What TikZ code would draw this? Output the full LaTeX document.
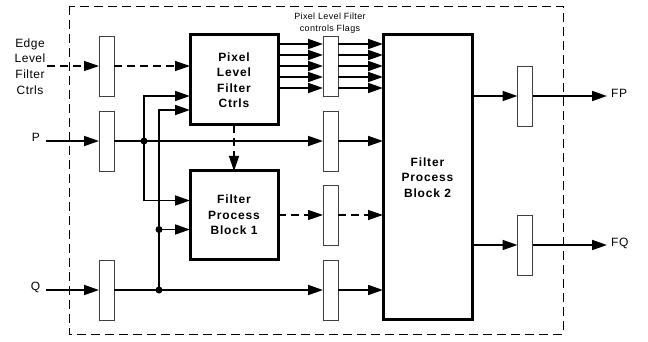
\documentclass[tikz,border=0pt]{standalone}
\usepackage{fontspec}
\setmainfont{Liberation Sans}
\newfontfamily\blkfont[LetterSpace=7]{Liberation Sans}
\newfontfamily\lblfont[LetterSpace=4]{Liberation Sans}
\usetikzlibrary{arrows.meta,calc}
\begin{document}
\begin{tikzpicture}[x=1pt,y=-1pt,
 latch/.style={draw=black!75,line width=0.8pt,fill=white,minimum width=15pt,minimum height=60pt,inner sep=0pt,outer sep=0pt},
 blk/.style={draw,line width=3pt,fill=white,inner sep=0pt,outer sep=0pt,align=center,font=\blkfont\bfseries\fontsize{12}{15.5}\selectfont},
 arr/.style={line width=1.8pt,-{Triangle[length=15pt,width=10pt]}},
 darr/.style={line width=1.3pt,dash pattern=on 8pt off 5pt,-{Triangle[length=15pt,width=10pt]}},
 dot/.style={circle,fill,inner sep=0pt,minimum size=7pt},
 lbl/.style={font=\lblfont\fontsize{12}{15.6}\selectfont,align=center,inner sep=0pt},
 small/.style={font=\lblfont\fontsize{9}{12}\selectfont,align=center,inner sep=0pt}]
\useasboundingbox (0,0) rectangle (648,342);
\fill[white] (0,0) rectangle (648,342);
% outer dashed frame
\draw[line width=0.9pt,dash pattern=on 9pt off 5pt] (69,6) rectangle (563,334);
% latches
\node[latch] (lE) at (106.5,66) {};
\node[latch] (lP) at (106.5,141) {};
\node[latch] (lQ) at (106.5,290) {};
\node[latch] (m1) at (330.5,66) {};
\node[latch] (m2) at (330.5,141) {};
\node[latch] (m3) at (330.5,215) {};
\node[latch] (m4) at (330.5,290) {};
\node[latch] (r1) at (525,96) {};
\node[latch] (r2) at (525,245) {};
% blocks
\node[blk,minimum width=88pt,minimum height=90pt] (pl) at (234,80) {Pixel\\Level\\Filter\\Ctrls};
\node[blk,minimum width=88pt,minimum height=88pt] (b1) at (234,215) {Filter\\Process\\Block 1};
\node[blk,minimum width=89pt,minimum height=284.5pt] (b2) at (427.5,177.25) {Filter\\Process\\Block 2};
% labels
\node[lbl] at (30,66.5) {Edge\\Level\\Filter\\Ctrls};
\node[lbl] at (36,137) {P};
\node[lbl] at (35.5,287) {Q};
\node[lbl,anchor=west] at (611,93) {FP};
\node[lbl,anchor=west] at (611,243) {FQ};
\node[small] at (330,23) {Pixel Level Filter\\controls Flags};
% coordinates
\coordinate (inE) at (47,66);
\coordinate (inP) at (46,141);
\coordinate (inQ) at (46,290);
\coordinate (oFP) at (607,96);
\coordinate (oFQ) at (607,245);
\coordinate (dP) at (144,141);
\coordinate (dQ) at (159,290);
\coordinate (dQ2) at (159,229.5);
% edge path
\draw[darr] (inE) -- (lE);
\draw[darr] (lE) -- (lE -| pl.west);
% inputs
\draw[arr] (inP) -- (lP);
\draw[arr] (inQ) -- (lQ);
% P and Q main lines
\draw[arr] (lP) -- (m2);
\draw[arr] (lQ) -- (m4);
% branches
\draw[arr] (dP) |- ([yshift=-16pt]pl.west);
\draw[arr] (dP) |- ([yshift=14.5pt]b1.west);
\draw[arr] (dQ) |- ([yshift=-30pt]pl.west);
\draw[arr] (dQ2) -- (dQ2 -| b1.west);
% pixel ctrl to block1
\draw[darr] (pl) -- (b1);
\draw[darr] (b1) -- (m3);
\draw[darr] (m3) -- (m3 -| b2.west);
% flags
\foreach \s in {-22,-11,0,11,22}{
  \draw[arr] ($(pl.east |- m1)+(0,\s)$) -- ($(m1.west)+(0,\s)$);
  \draw[arr] ($(m1.east)+(0,\s)$) -- ($(b2.west |- m1)+(0,\s)$);
}
\draw[arr] (m2) -- (m2 -| b2.west);
\draw[arr] (m4) -- (m4 -| b2.west);
% outputs
\draw[arr] (r1 -| b2.east) -- (r1);
\draw[arr] (r1) -- (oFP);
\draw[arr] (r2 -| b2.east) -- (r2);
\draw[arr] (r2) -- (oFQ);
% dots
\node[dot] at (dP) {};
\node[dot] at (dQ) {};
\node[dot] at (dQ2) {};
\end{tikzpicture}
\end{document}
